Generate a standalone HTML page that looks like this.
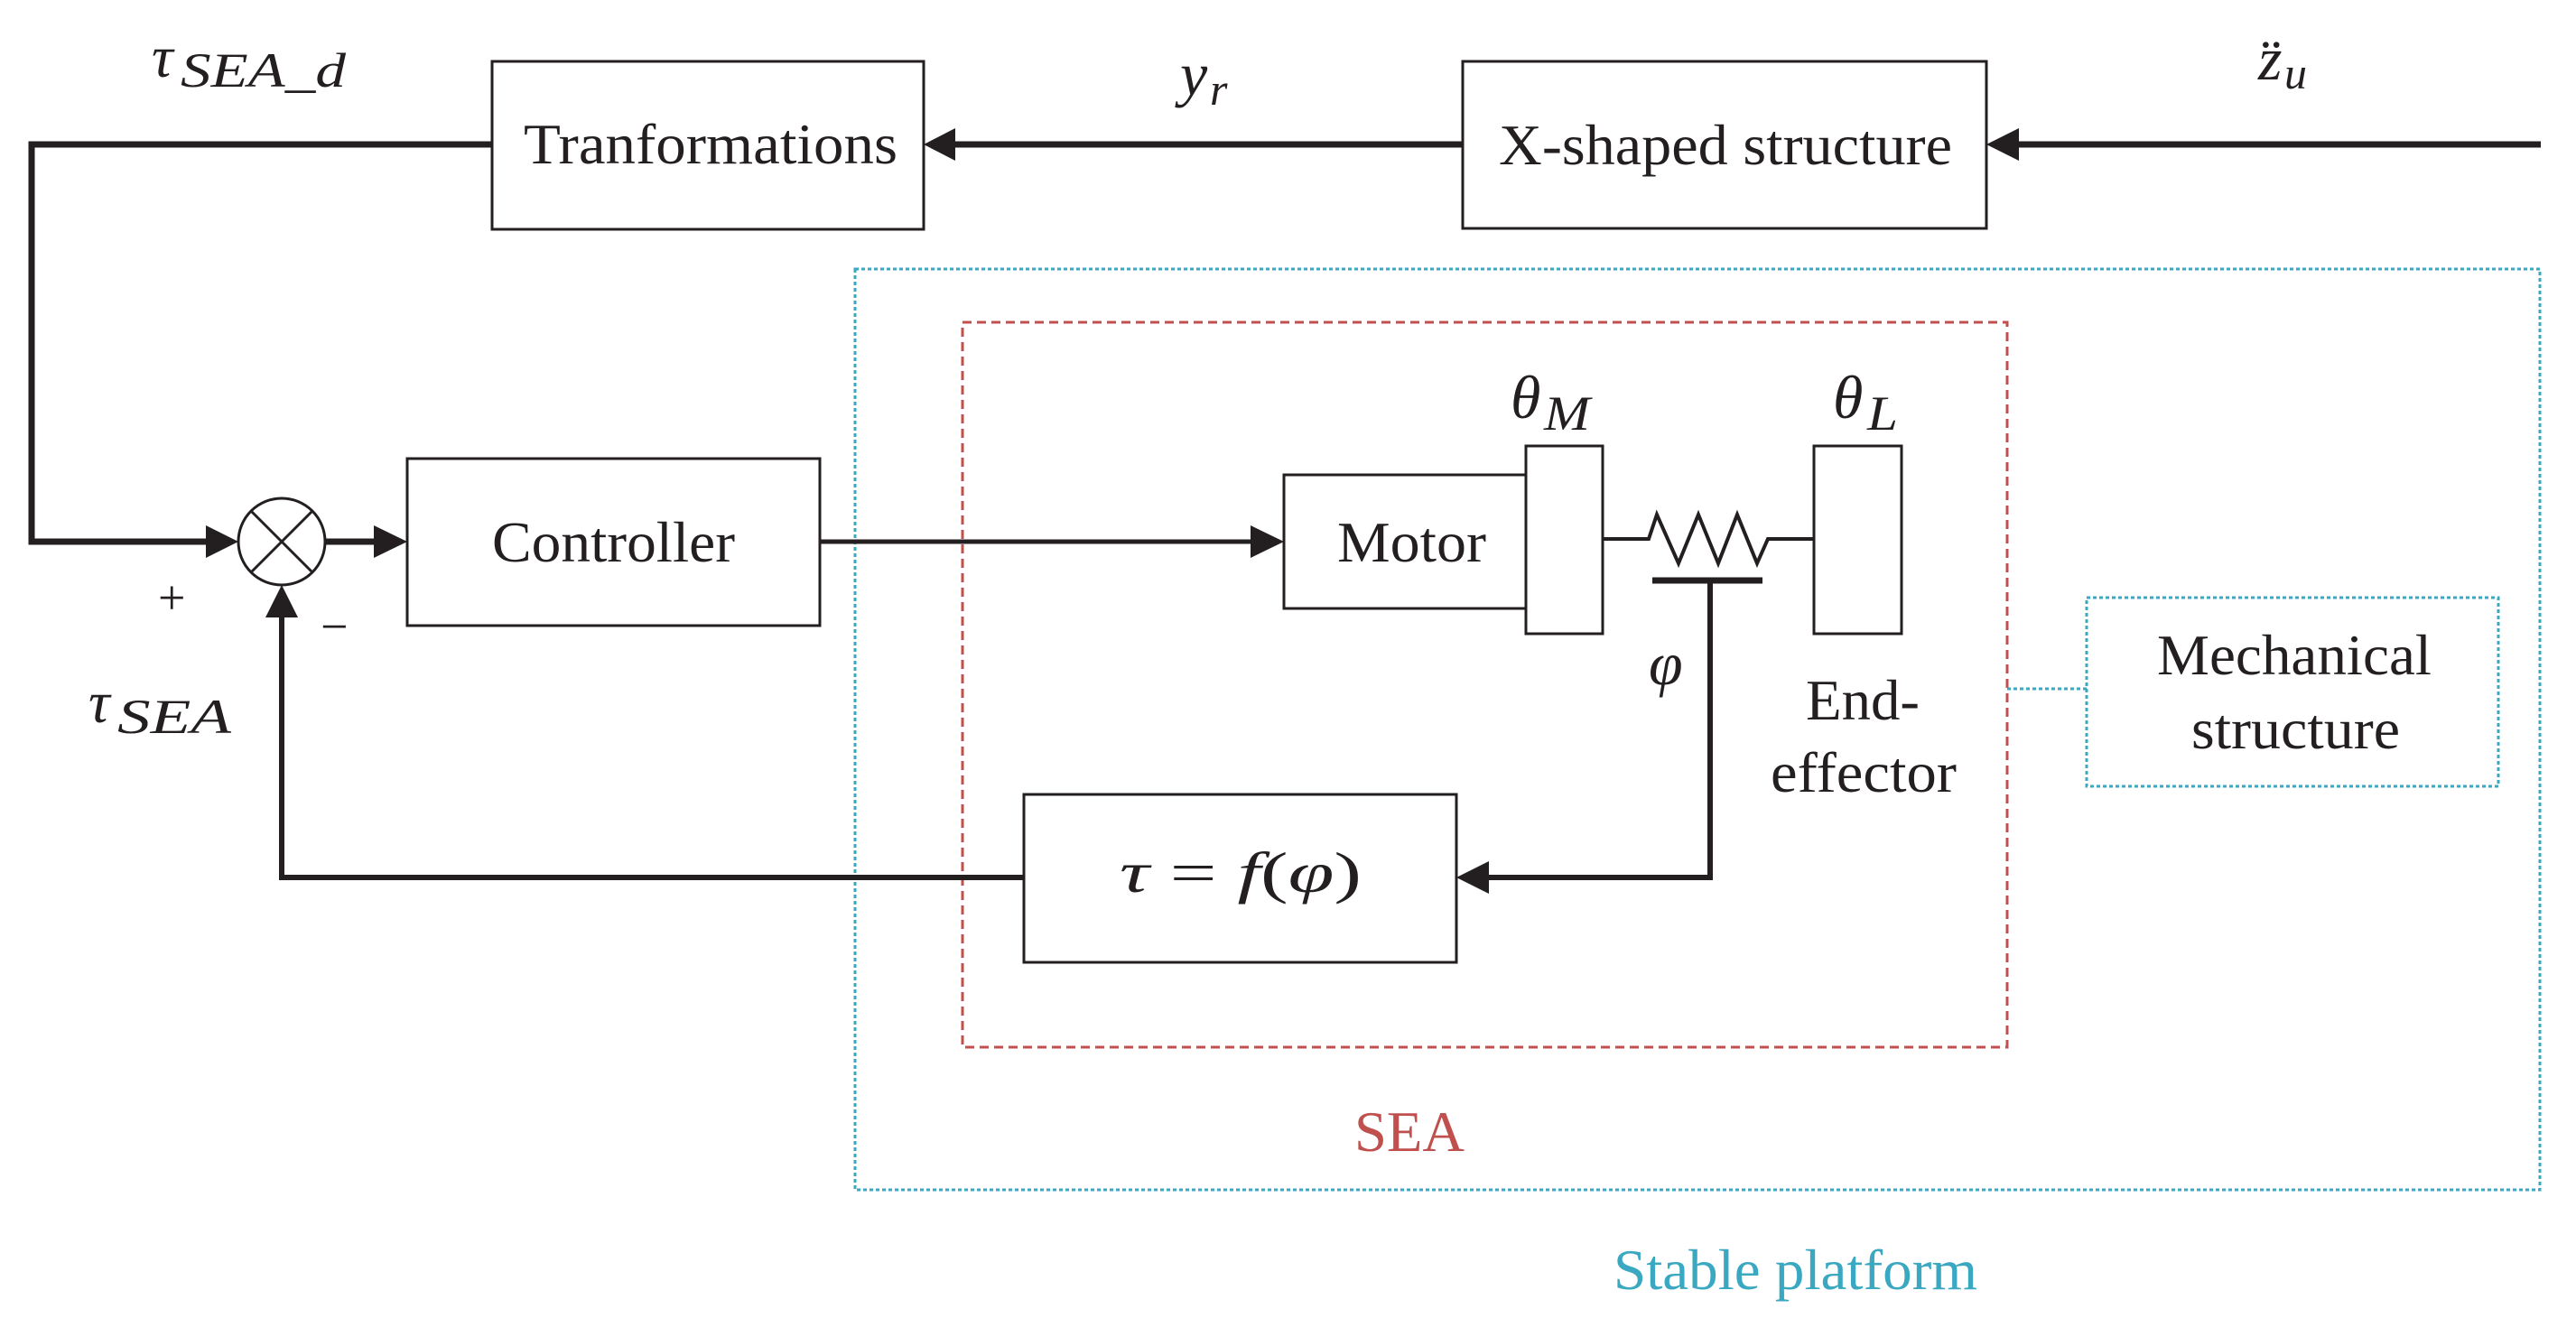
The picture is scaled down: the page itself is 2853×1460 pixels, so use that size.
<!DOCTYPE html>
<html><head><meta charset="utf-8"><style>html,body{margin:0;padding:0;background:#fff}svg{display:block}</style></head>
<body>
<svg width="2853" height="1460" viewBox="0 0 2853 1460" xmlns="http://www.w3.org/2000/svg" font-family="'Liberation Serif', serif" fill="#231f20">
<rect width="2853" height="1460" fill="#fff"/>
<rect x="947" y="298" width="1866" height="1020" fill="none" stroke="#3aa8c1" stroke-width="3" stroke-dasharray="4 3"/>
<rect x="1066" y="357" width="1157" height="803" fill="none" stroke="#c0504d" stroke-width="3" stroke-dasharray="10 6"/>
<rect x="2311" y="662" width="456" height="209" fill="none" stroke="#3aa8c1" stroke-width="3" stroke-dasharray="4 3"/>
<line x1="2223" y1="763" x2="2311" y2="763" stroke="#3aa8c1" stroke-width="3" stroke-dasharray="4 3"/>
<g stroke="#231f20" fill="none">
<rect x="545" y="68" width="478" height="186" stroke-width="3"/>
<rect x="1620" y="68" width="580" height="185" stroke-width="3"/>
<rect x="451" y="508" width="457" height="185" stroke-width="3"/>
<rect x="1422" y="526" width="268" height="148" stroke-width="3"/>
<rect x="1690" y="494" width="85" height="208" stroke-width="3"/>
<rect x="2009" y="494" width="97" height="208" stroke-width="3"/>
<rect x="1134" y="880" width="479" height="186" stroke-width="3"/>
<polyline points="2814,160 2230,160" stroke-width="7"/>
<polyline points="1620,160 1050,160" stroke-width="7"/>
<polyline points="545,160 35,160 35,600 232,600" stroke-width="7"/>
<line x1="360" y1="600" x2="418" y2="600" stroke-width="7"/>
<line x1="908" y1="600" x2="1388" y2="600" stroke-width="5"/>
<polyline points="1134,972 312,972 312,680" stroke-width="6"/>
<polyline points="1894,643 1894,972 1640,972" stroke-width="6"/>
<circle cx="312" cy="600" r="48" stroke-width="3"/>
<line x1="278" y1="566" x2="346" y2="634" stroke-width="3"/>
<line x1="346" y1="566" x2="278" y2="634" stroke-width="3"/>
<polyline points="1775,597 1826,597 1835,570 1859,624 1881,570 1903,624 1924,570 1946,624 1958,597 2009,597" stroke-width="4"/>
<line x1="1830" y1="643" x2="1952" y2="643" stroke-width="7"/>
</g>
<polygon points="1023,160 1058,142 1058,178"/>
<polygon points="2200,160 2236,142 2236,178"/>
<polygon points="264,600 228,582 228,618"/>
<polygon points="451,600 414,582 414,618"/>
<polygon points="1422,600 1385,582 1385,618"/>
<polygon points="312,648 294,684 330,684"/>
<polygon points="1613,972 1649,954 1649,990"/>
<g font-size="64">
<text x="580" y="181" textLength="414" lengthAdjust="spacingAndGlyphs">Tranformations</text>
<text x="1660" y="182" textLength="502" lengthAdjust="spacingAndGlyphs">X-shaped structure</text>
<text x="545" y="622" textLength="269" lengthAdjust="spacingAndGlyphs">Controller</text>
<text x="1481" y="622" textLength="165" lengthAdjust="spacingAndGlyphs">Motor</text>
<text x="2389" y="747" textLength="304" lengthAdjust="spacingAndGlyphs">Mechanical</text>
<text x="2427" y="829" textLength="231" lengthAdjust="spacingAndGlyphs">structure</text>
<text x="2000" y="797" textLength="126" lengthAdjust="spacingAndGlyphs">End-</text>
<text x="1961" y="877" textLength="206" lengthAdjust="spacingAndGlyphs">effector</text>
<text x="1500" y="1275" fill="#c0504d" textLength="122" lengthAdjust="spacingAndGlyphs">SEA</text>
<text x="1787" y="1428" fill="#3aa8c1" textLength="403" lengthAdjust="spacingAndGlyphs">Stable platform</text>
</g>
<g font-style="italic">
<text x="1240" y="988" font-size="64" textLength="268" lengthAdjust="spacingAndGlyphs">τ <tspan font-style="normal">=</tspan> f<tspan font-style="normal">(</tspan>φ<tspan font-style="normal">)</tspan></text>
<text x="1673" y="463" font-size="68">θ</text><text x="1710" y="476" font-size="54" textLength="51" lengthAdjust="spacingAndGlyphs">M</text>
<text x="2030" y="463" font-size="68">θ</text><text x="2068" y="476" font-size="54" textLength="34" lengthAdjust="spacingAndGlyphs">L</text>
<text x="1826" y="758" font-size="68">φ</text>
<text x="168" y="85" font-size="66">τ</text><text x="200" y="96" font-size="54" textLength="183" lengthAdjust="spacingAndGlyphs">SEA_d</text>
<text x="98" y="800" font-size="66">τ</text><text x="130" y="812" font-size="54" textLength="126" lengthAdjust="spacingAndGlyphs">SEA</text>
<text x="1307" y="105" font-size="68">y</text><text x="1340" y="116" font-size="50">r</text>
<text x="2501" y="88" font-size="68">z̈</text><text x="2530" y="98" font-size="50">u</text>
</g>
<text x="175" y="680" font-size="54">+</text>
<text x="355" y="712" font-size="54">−</text>
</svg>
</body></html>
